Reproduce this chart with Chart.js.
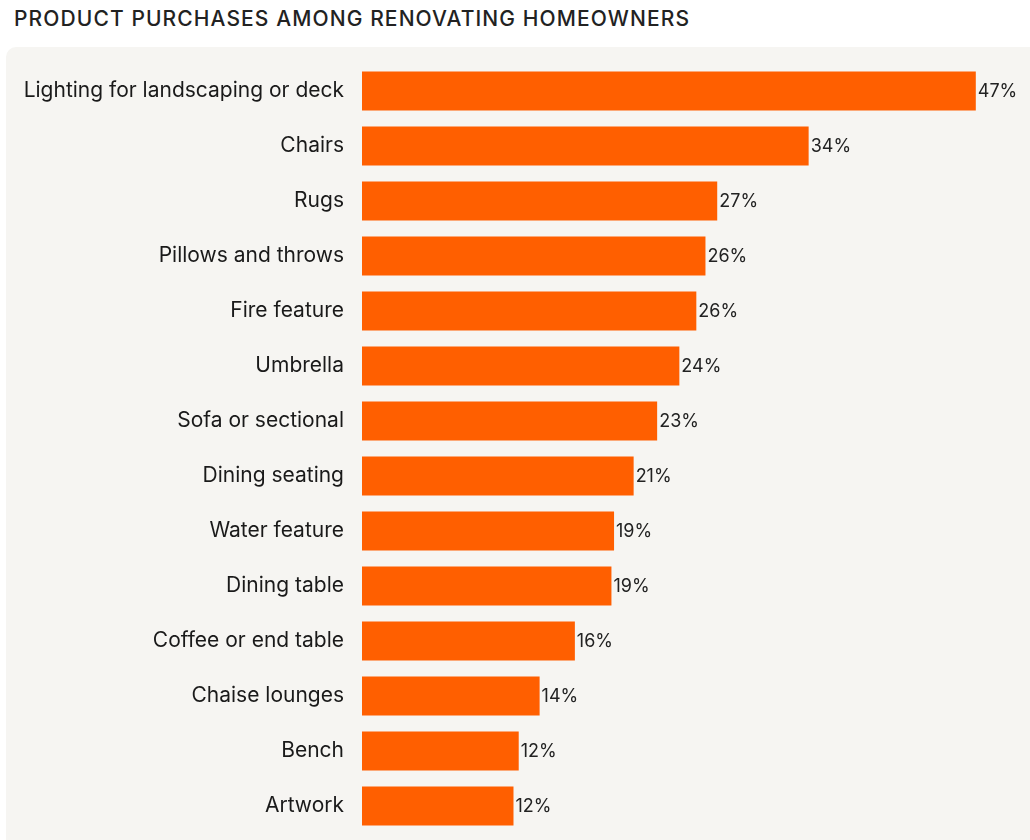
<!DOCTYPE html>
<html>
<head>
<meta charset="utf-8">
<script src="https://cdn.jsdelivr.net/npm/chart.js@4/dist/chart.umd.min.js"></script>
<style>
  html, body { margin: 0; padding: 0; background: #ffffff; width: 1030px; height: 840px; overflow: hidden; }
  #title { position: absolute; left: 14px; top: 6px; font-family: Inter, "Open Sans", sans-serif; font-size: 21px; font-weight: 500; letter-spacing: 1.1px; color: #222222; white-space: nowrap; }
  #panel { position: absolute; left: 6px; top: 47px; width: 1040px; height: 820px; background: #f6f5f2; border-radius: 10px; }
  #wrap { position: absolute; left: 0; top: 0; width: 1030px; height: 864px; }
</style>
</head>
<body>
<div id="title">PRODUCT PURCHASES AMONG RENOVATING HOMEOWNERS</div>
<div id="panel"></div>
<div id="wrap"><canvas id="c"></canvas></div>
<script>
const categories = [
  "Lighting for landscaping or deck", "Chairs", "Rugs", "Pillows and throws",
  "Fire feature", "Umbrella", "Sofa or sectional", "Dining seating",
  "Water feature", "Dining table", "Coffee or end table", "Chaise lounges",
  "Bench", "Artwork"
];
const values = [47.0, 34.2, 27.2, 26.3, 25.6, 24.3, 22.6, 20.8, 19.3, 19.1, 16.3, 13.6, 12.0, 11.6];
const valueLabels = ["47%", "34%", "27%", "26%", "26%", "24%", "23%", "21%", "19%", "19%", "16%", "14%", "12%", "12%"];

const FONT = "Inter, 'Open Sans', sans-serif";

const valueLabelPlugin = {
  id: 'valueLabels',
  afterDatasetsDraw(chart) {
    const ctx = chart.ctx;
    const meta = chart.getDatasetMeta(0);
    ctx.save();
    ctx.font = "18px " + FONT;
    ctx.fillStyle = "#222222";
    ctx.textAlign = "left";
    ctx.textBaseline = "middle";
    meta.data.forEach((bar, i) => {
      ctx.fillText(valueLabels[i], bar.x + 2, bar.y + 1);
    });
    ctx.restore();
  }
};

new Chart(document.getElementById('c'), {
  type: 'bar',
  data: {
    labels: categories,
    datasets: [{
      data: values,
      backgroundColor: '#ff5f00',
      borderWidth: 0,
      categoryPercentage: 1.0,
      barPercentage: 0.71
    }]
  },
  options: {
    indexAxis: 'y',
    responsive: true,
    maintainAspectRatio: false,
    animation: false,
    layout: { padding: { top: 63.5, bottom: 6, left: 0, right: 0 } },
    plugins: { legend: { display: false }, tooltip: { enabled: false } },
    scales: {
      x: { display: false, min: 0, max: 51.15 },
      y: {
        grid: { display: false, drawTicks: false },
        border: { display: false },
        ticks: { padding: 18, color: '#1a1a1a', font: { family: FONT, size: 21 } },
        afterFit(scale) { scale.width = 362; }
      }
    }
  },
  plugins: [valueLabelPlugin]
});
</script>
</body>
</html>
